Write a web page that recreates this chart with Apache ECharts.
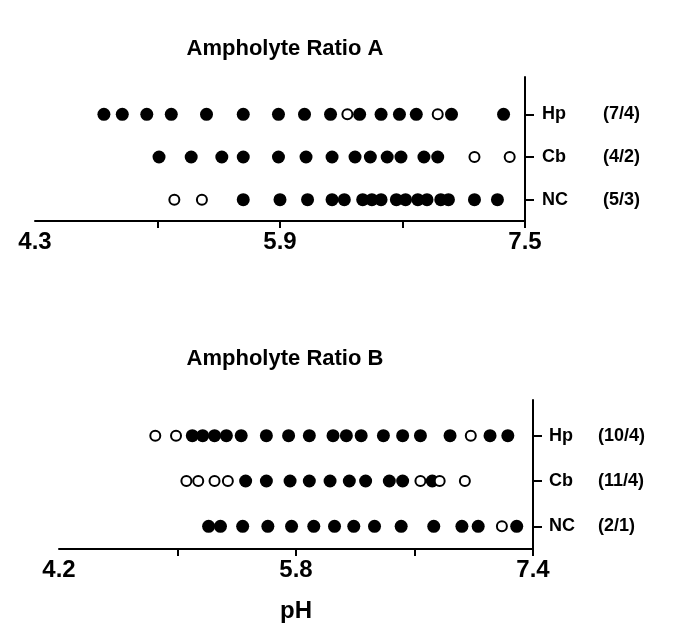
<!DOCTYPE html>
<html>
<head>
<meta charset="utf-8">
<style>
  html, body { margin: 0; padding: 0; background: #fff; }
  #chart { width: 700px; height: 637px; }
</style>
</head>
<body>
<div id="chart"></div>

<script src="https://cdn.jsdelivr.net/npm/echarts@6.0.0/dist/echarts.min.js"></script>
<script>
  // rows are listed bottom to top (category axis order)
  const rowsA = ['NC', 'Cb', 'Hp'];
  const ratiosA = ['(5/3)', '(4/2)', '(7/4)'];
  const rowsB = ['NC', 'Cb', 'Hp'];
  const ratiosB = ['(2/1)', '(11/4)', '(10/4)'];

  // Ampholyte Ratio A, pH of each band (filled = solid dot, open = hollow dot)
  const hpFilledA = [4.75, 4.87, 5.03, 5.19, 5.42, 5.66, 5.89, 6.06, 6.23, 6.42, 6.56, 6.68, 6.79, 7.02, 7.36];
  const hpOpenA = [6.34, 6.93];
  const cbFilledA = [5.11, 5.32, 5.52, 5.66, 5.89, 6.07, 6.24, 6.39, 6.49, 6.60, 6.69, 6.84, 6.93];
  const cbOpenA = [7.17, 7.40];
  const ncFilledA = [5.66, 5.90, 6.08, 6.24, 6.32, 6.44, 6.50, 6.56, 6.66, 6.72, 6.80, 6.86, 6.95, 7.00, 7.17, 7.32];
  const ncOpenA = [5.21, 5.39];

  // Ampholyte Ratio B
  const hpFilledB = [5.10, 5.17, 5.25, 5.33, 5.43, 5.60, 5.75, 5.89, 6.05, 6.14, 6.24, 6.39, 6.52, 6.64, 6.84, 7.11, 7.23];
  const hpOpenB = [4.85, 4.99, 6.98];
  const cbFilledB = [5.46, 5.60, 5.76, 5.89, 6.03, 6.16, 6.27, 6.43, 6.52, 6.72];
  const cbOpenB = [5.06, 5.14, 5.25, 5.34, 6.64, 6.77, 6.94];
  const ncFilledB = [5.21, 5.29, 5.44, 5.61, 5.77, 5.92, 6.06, 6.19, 6.33, 6.51, 6.73, 6.92, 7.03, 7.29];
  const ncOpenB = [7.19];

  // x axis ticks / labels
  const rangeA = [4.3, 7.5];
  const ticksA = [5.1, 5.9, 6.7, 7.5];
  const tickLabelsA = [4.3, 5.9, 7.5];
  const rangeB = [4.2, 7.4];
  const ticksB = [5.0, 5.8, 6.6, 7.4];
  const tickLabelsB = [4.2, 5.8, 7.4];

  const FONT = '"Liberation Sans", Arial, Helvetica, sans-serif';
  const chart = echarts.init(document.getElementById('chart'));

  function pts(vals, row) {
    return vals.map(v => [v, row]);
  }

  function xAxisFor(gridIndex, range, ticks, labels, name) {
    return {
      gridIndex: gridIndex,
      type: 'value',
      min: range[0],
      max: range[1],
      name: name || '',
      nameLocation: 'middle',
      nameGap: 50,
      nameTextStyle: { fontFamily: FONT, fontWeight: 'bold', fontSize: 24, color: '#000' },
      axisLine: { show: true, lineStyle: { color: '#000', width: 2 } },
      axisTick: { show: true, length: 7, lineStyle: { color: '#000', width: 2 }, customValues: ticks },
      axisLabel: {
        margin: 9, fontFamily: FONT, fontWeight: 'bold', fontSize: 24, color: '#000',
        customValues: labels,
        formatter: v => v.toFixed(1)
      },
      splitLine: { show: false }
    };
  }

  function rowAxisFor(gridIndex, rows, ratios, nameWidth, margin) {
    return {
      gridIndex: gridIndex,
      type: 'category',
      data: rows,
      position: 'right',
      axisLine: { show: true, lineStyle: { color: '#000', width: 2 } },
      axisTick: { show: true, alignWithLabel: true, length: 9, lineStyle: { color: '#000', width: 2 } },
      axisLabel: {
        margin: margin,
        formatter: (v, i) => `{n|${v}}{r|${ratios[i]}}`,
        rich: {
          n: { width: nameWidth, fontFamily: FONT, fontWeight: 'bold', fontSize: 18, color: '#000' },
          r: { fontFamily: FONT, fontWeight: 'bold', fontSize: 18, color: '#000' }
        }
      },
      splitLine: { show: false }
    };
  }

  function lineAxisFor(gridIndex) {
    return {
      gridIndex: gridIndex,
      type: 'value',
      min: 0,
      max: 1,
      position: 'right',
      axisLine: { show: true, lineStyle: { color: '#000', width: 2 } },
      axisTick: { show: false },
      axisLabel: { show: false },
      splitLine: { show: false }
    };
  }

  function hiddenX(gridIndex, range) {
    return { gridIndex: gridIndex, type: 'value', min: range[0], max: range[1], show: false };
  }

  const filledStyle = { color: '#000', opacity: 1 };
  const openStyle = { color: '#fff', borderColor: '#000', borderWidth: 2, opacity: 1 };

  function dotSeries(xi, filled, open) {
    return [
      {
        type: 'scatter', xAxisIndex: xi, yAxisIndex: xi, symbol: 'circle', symbolSize: 13,
        itemStyle: filledStyle, data: filled, z: 3, silent: true
      },
      {
        type: 'scatter', xAxisIndex: xi, yAxisIndex: xi, symbol: 'circle', symbolSize: 10,
        itemStyle: openStyle, data: open, z: 4, silent: true
      }
    ];
  }

  const option = {
    animation: false,
    backgroundColor: '#fff',
    title: [
      {
        text: 'Ampholyte Ratio A', left: 280, top: 33, textAlign: 'center',
        textStyle: { fontFamily: FONT, fontWeight: 'bold', fontSize: 22, color: '#000' }
      },
      {
        text: 'Ampholyte Ratio B', left: 280, top: 343, textAlign: 'center',
        textStyle: { fontFamily: FONT, fontWeight: 'bold', fontSize: 22, color: '#000' }
      }
    ],
    grid: [
      { left: 35, right: 175, top: 93, bottom: 416 },   // A dots
      { left: 35, right: 175, top: 77, bottom: 416 },   // A full-height right line
      { left: 59, right: 167, top: 413, bottom: 88 },   // B dots
      { left: 59, right: 167, top: 400, bottom: 88 }    // B full-height right line
    ],
    xAxis: [
      xAxisFor(0, rangeA, ticksA, tickLabelsA),
      hiddenX(1, rangeA),
      xAxisFor(2, rangeB, ticksB, tickLabelsB, 'pH'),
      hiddenX(3, rangeB)
    ],
    yAxis: [
      rowAxisFor(0, rowsA, ratiosA, 61, 17),
      lineAxisFor(1),
      rowAxisFor(2, rowsB, ratiosB, 49, 16),
      lineAxisFor(3)
    ],
    series: [
      ...dotSeries(0,
        [...pts(ncFilledA, 'NC'), ...pts(cbFilledA, 'Cb'), ...pts(hpFilledA, 'Hp')],
        [...pts(ncOpenA, 'NC'), ...pts(cbOpenA, 'Cb'), ...pts(hpOpenA, 'Hp')]),
      ...dotSeries(2,
        [...pts(ncFilledB, 'NC'), ...pts(cbFilledB, 'Cb'), ...pts(hpFilledB, 'Hp')],
        [...pts(ncOpenB, 'NC'), ...pts(cbOpenB, 'Cb'), ...pts(hpOpenB, 'Hp')])
    ]
  };

  chart.setOption(option);
</script>
</body>
</html>
